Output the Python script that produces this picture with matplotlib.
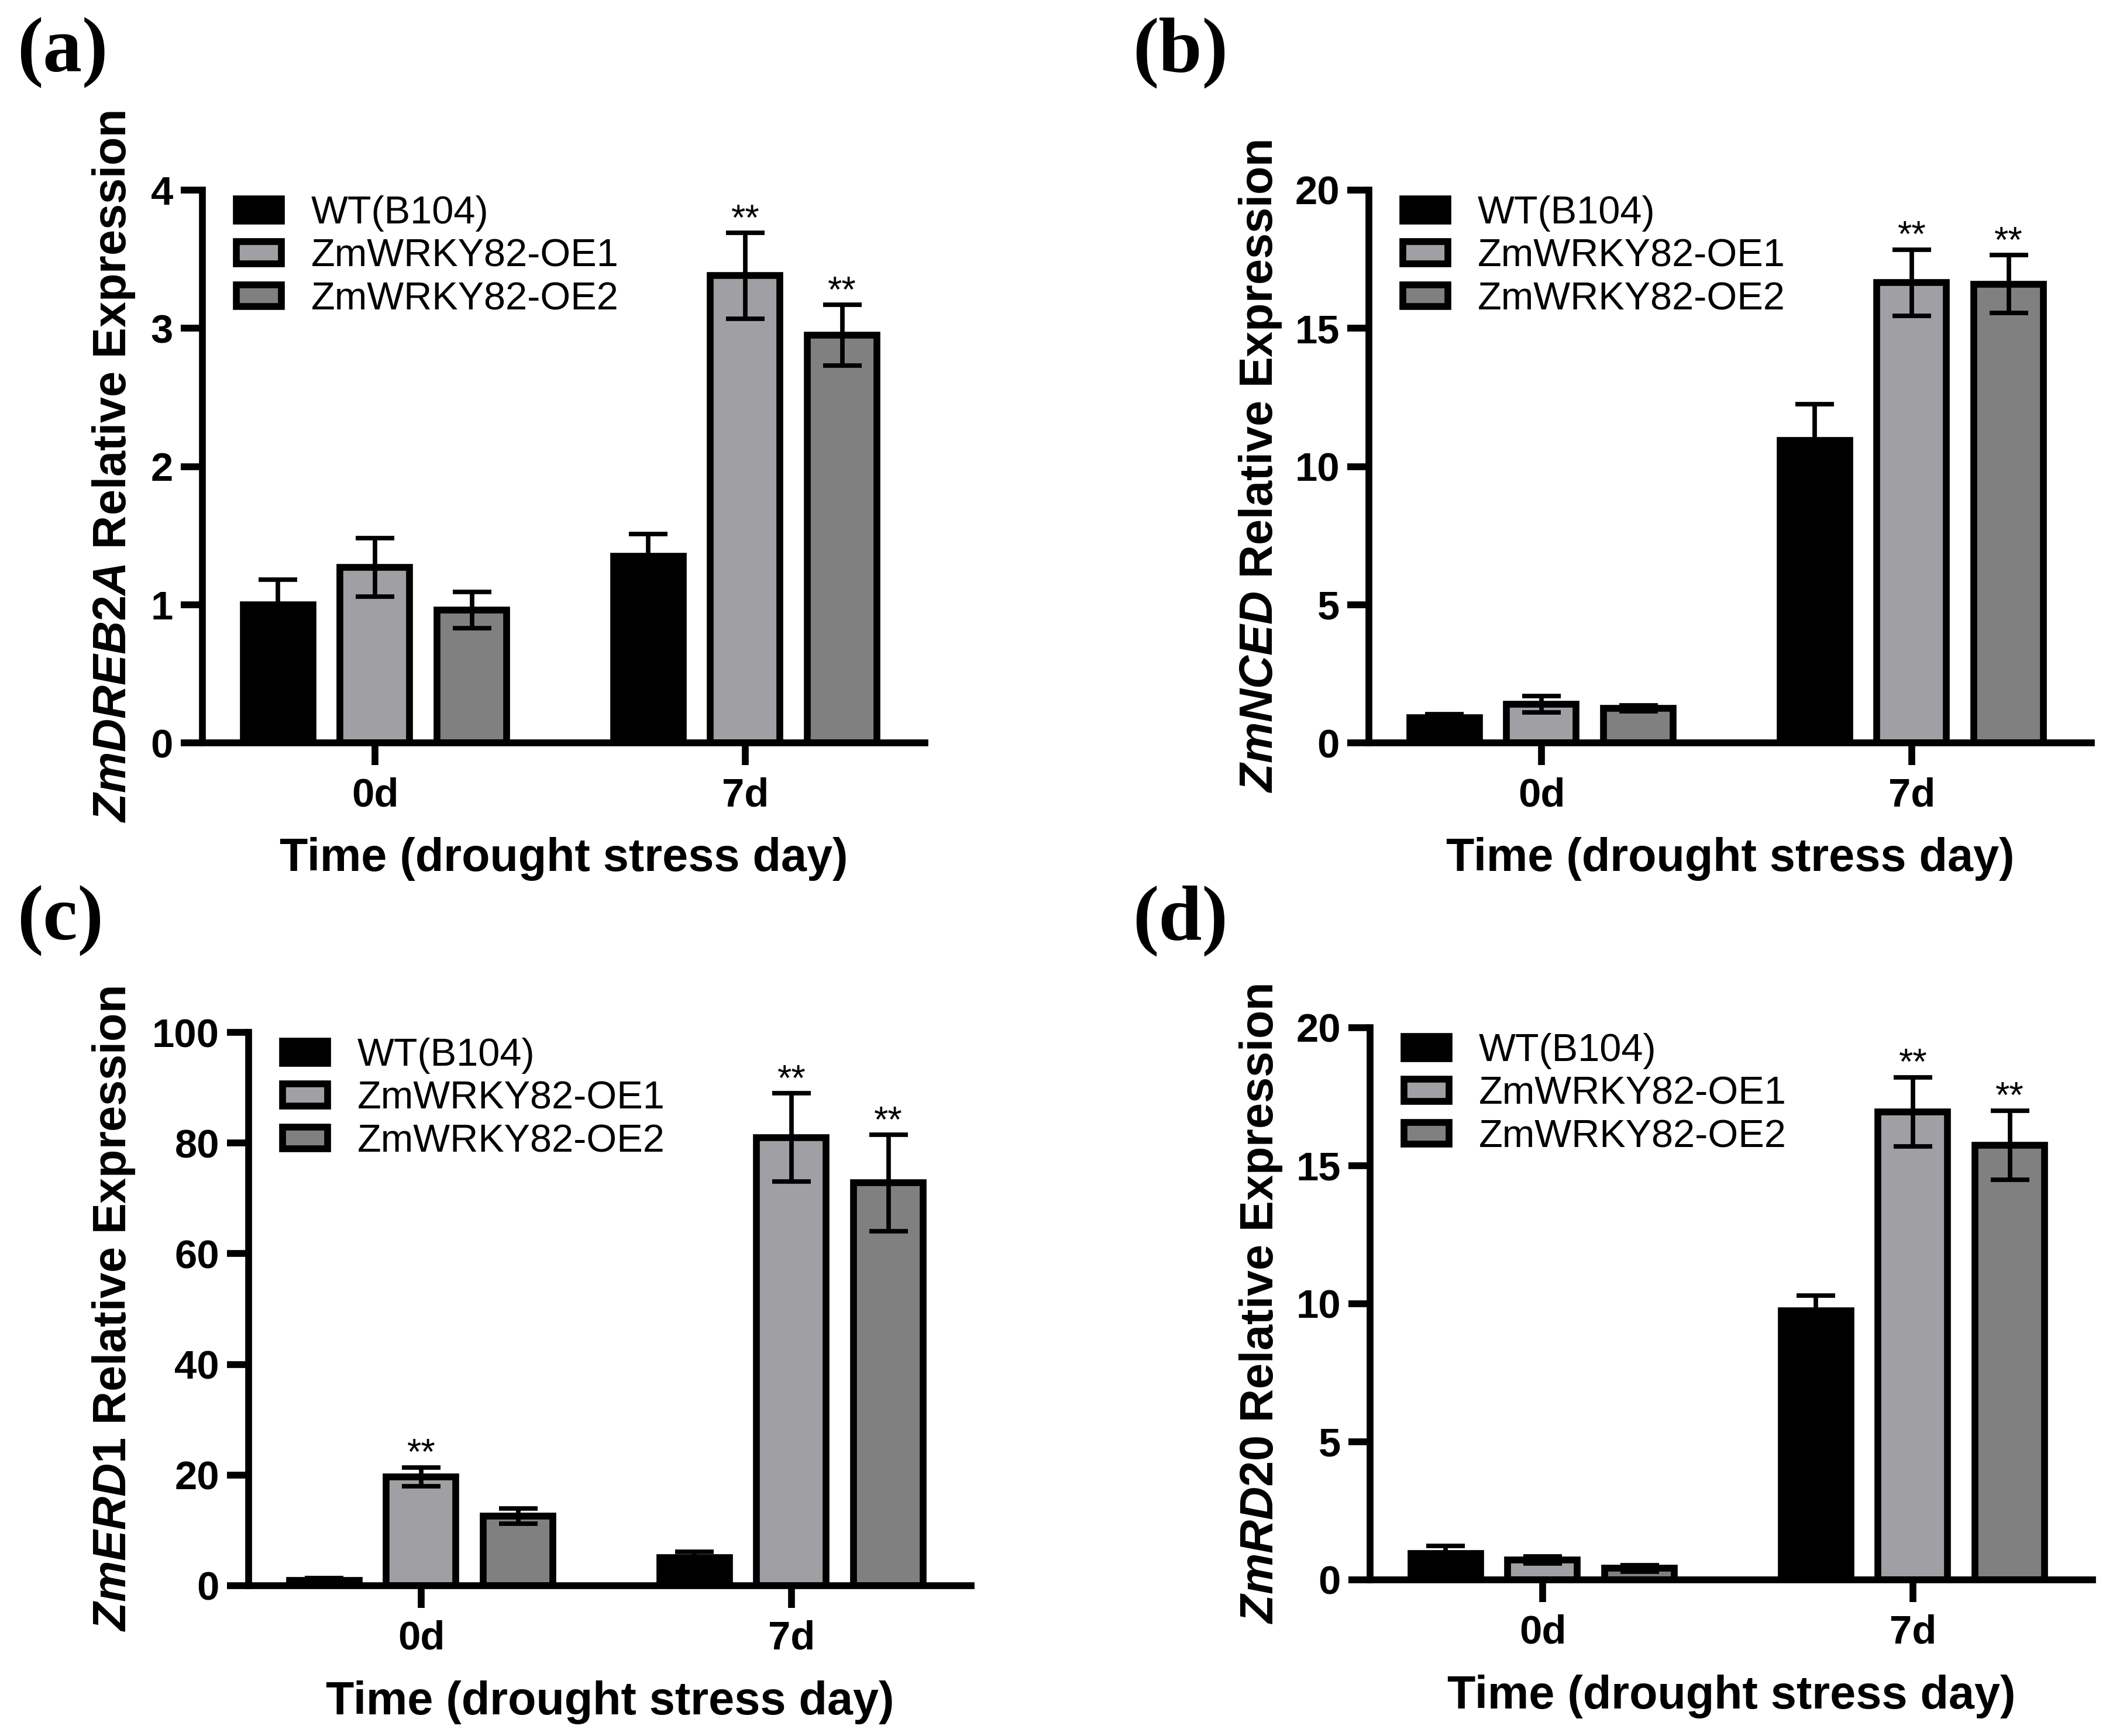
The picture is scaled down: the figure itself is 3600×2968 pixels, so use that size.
import matplotlib
matplotlib.use("Agg")
import matplotlib.pyplot as plt
import numpy as np

plt.rcParams['font.family'] = ['Liberation Sans', 'DejaVu Sans']
plt.rcParams['mathtext.fontset'] = 'custom'
plt.rcParams['mathtext.it'] = 'Liberation Sans:italic:bold'
plt.rcParams['mathtext.rm'] = 'Liberation Sans:bold'
plt.rcParams['mathtext.bf'] = 'Liberation Sans:bold'

# ---------------- data ----------------
groups = ['0d', '7d']
series = ['WT(B104)', 'ZmWRKY82-OE1', 'ZmWRKY82-OE2']
colors = ['#000000', '#A09FA4', '#808080']

# panel (a) ZmDREB2A
a_wt = [1.00, 1.35]
a_oe1 = [1.27, 3.38]
a_oe2 = [0.96, 2.95]
a_wt_err = [0.18, 0.16]
a_oe1_err = [0.21, 0.31]
a_oe2_err = [0.13, 0.22]
a_sig = [[False, False], [False, True], [False, True]]
a_ticks = [0, 1, 2, 3, 4]

# panel (b) ZmNCED
b_wt = [0.90, 10.95]
b_oe1 = [1.40, 16.65]
b_oe2 = [1.25, 16.60]
b_wt_err = [0.14, 1.30]
b_oe1_err = [0.30, 1.20]
b_oe2_err = [0.10, 1.05]
b_sig = [[False, False], [False, True], [False, True]]
b_ticks = [0, 5, 10, 15, 20]

# panel (c) ZmERD1
c_wt = [1.0, 5.1]
c_oe1 = [19.7, 81.0]
c_oe2 = [12.6, 72.8]
c_wt_err = [0.4, 1.0]
c_oe1_err = [1.7, 8.0]
c_oe2_err = [1.4, 8.7]
c_sig = [[False, False], [True, True], [False, True]]
c_ticks = [0, 20, 40, 60, 80, 100]

# panel (d) ZmRD20
d_wt = [0.95, 9.75]
d_oe1 = [0.72, 16.95]
d_oe2 = [0.42, 15.75]
d_wt_err = [0.27, 0.55]
d_oe1_err = [0.12, 1.25]
d_oe2_err = [0.12, 1.25]
d_sig = [[False, False], [False, True], [False, True]]
d_ticks = [0, 5, 10, 15, 20]

panels = [
    dict(tag='(a)', gene='ZmDREB2A', vals=[a_wt, a_oe1, a_oe2],
         errs=[a_wt_err, a_oe1_err, a_oe2_err], sig=a_sig, ticks=a_ticks),
    dict(tag='(b)', gene='ZmNCED', vals=[b_wt, b_oe1, b_oe2],
         errs=[b_wt_err, b_oe1_err, b_oe2_err], sig=b_sig, ticks=b_ticks),
    dict(tag='(c)', gene='ZmERD1', vals=[c_wt, c_oe1, c_oe2],
         errs=[c_wt_err, c_oe1_err, c_oe2_err], sig=c_sig, ticks=c_ticks),
    dict(tag='(d)', gene='ZmRD20', vals=[d_wt, d_oe1, d_oe2],
         errs=[d_wt_err, d_oe1_err, d_oe2_err], sig=d_sig, ticks=d_ticks),
]

# ---------------- layout ----------------
W, H = 3600, 2968
fig = plt.figure(figsize=(W / 300, H / 300), dpi=300)

axw = 1235
# (left px, bottom px, top px)
boxes = [(346, 1270, 325), (2340, 1270, 325), (425, 2711, 1765), (2342, 2701, 1757)]
ylabel_x = [-0.123, -0.150, -0.187, -0.151]
tag_pos = [(29, 90), (1936, 90), (29, 1574), (1936, 1574)]

LW = 2.8
ELW = 1.85
offsets = [-0.262, 0.0, 0.262]
bw = 0.188
xpos = np.arange(len(groups))

for i, p in enumerate(panels):
    l, b, t = boxes[i]
    ax = fig.add_axes([l / W, 1 - b / H, axw / W, (b - t) / H])
    ymax = p['ticks'][-1]
    handles = []
    for s in range(3):
        x = xpos + offsets[s]
        bars = ax.bar(x, p['vals'][s], width=bw, color=colors[s], edgecolor='black',
                      linewidth=LW, label=series[s], zorder=2)
        handles.append(bars)
        ax.errorbar(x, p['vals'][s], yerr=p['errs'][s], fmt='none', ecolor='black',
                    elinewidth=ELW, capsize=7.9, capthick=ELW, zorder=3)
        for g in range(len(groups)):
            if p['sig'][s][g]:
                top = p['vals'][s][g] + p['errs'][s][g]
                ax.text(x[g], top + 0.006 * ymax, '**', ha='center', va='baseline',
                        fontsize=15, zorder=4)
    ax.set_xlim(-0.466, 1.485)
    ax.set_ylim(0, ymax)
    ax.set_yticks(p['ticks'])
    ax.set_xticks(xpos)
    ax.set_xticklabels(groups)
    for sp in ['top', 'right']:
        ax.spines[sp].set_visible(False)
    for sp in ['left', 'bottom']:
        ax.spines[sp].set_linewidth(LW)
        ax.spines[sp].set_zorder(5)
    ax.tick_params(axis='both', width=LW, length=9, labelsize=16.5)
    ax.tick_params(axis='x', pad=5)
    ax.tick_params(axis='y', pad=3)
    for lab in ax.get_xticklabels() + ax.get_yticklabels():
        lab.set_fontweight('bold')
    ax.set_ylabel(r'$\mathit{' + p['gene'] + r'}$ Relative Expression',
                  fontsize=19, fontweight='bold', va='center')
    ax.yaxis.set_label_coords(ylabel_x[i], 0.5)
    ax.set_xlabel('Time (drought stress day)', fontsize=19, fontweight='bold', va='center')
    ax.xaxis.set_label_coords(0.5, -199 / (b - t))
    leg = ax.legend(handles=handles, loc='upper left', bbox_to_anchor=(0.047, 0.99),
                    frameon=False, fontsize=16, borderpad=0, borderaxespad=0,
                    handlelength=1.16, handleheight=0.49, handletextpad=0.75,
                    labelspacing=0.17)
    tx, ty = tag_pos[i]
    fig.text(tx / W, 1 - ty / H, p['tag'], fontsize=32, fontweight='bold',
             family='Liberation Serif', ha='left', va='center')

fig.savefig('out.png', dpi=300, facecolor='white')
